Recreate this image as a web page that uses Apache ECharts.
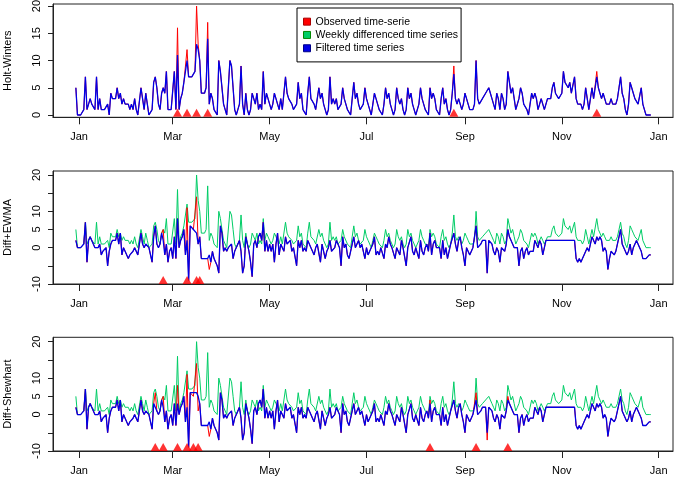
<!DOCTYPE html>
<html>
<head>
<meta charset="utf-8">
<script src="https://cdn.jsdelivr.net/npm/echarts@6/dist/echarts.min.js"></script>
<style>
html, body { margin: 0; padding: 0; background: #fff; }
#chartmain { width: 677px; height: 481px; }
</style>
</head>
<body>
<div id="chartmain"></div>
<script>
// one value per day, first value is day -2 (30 Dec of previous year)
var startDay = -2;

var observed = [
    5,0,0,0,0,1,
    7,1,2,3,2,2,1, 7,1,3,1,1,1,1, 2,0,4,3,3,3,5, 3,4,2,3,2,2,2,
    1,2,1,3,1,0,0, 5,3,1,4,2,0,0, 1,6,7,5,2,1,4, 5,4,8,1,1,1,1,
    8,1,16,1,3,4,6, 6,12,7,7,7,7,8, 20,13,10,4,4,4,5, 17,2,4,3,1,1,0,
    10,8,8,2,1,0,0, 10,9,5,1,0,1,2, 9,2,0,4,1,0,1, 4,3,2,4,1,2,1,
    8,2,4,3,2,1,2, 4,3,2,1,3,1,1, 7,4,3,3,2,1,1, 2,6,3,4,1,1,0,
    4,7,3,3,2,1,1, 5,3,4,2,1,0,1, 7,2,3,2,3,1,1, 2,5,3,3,1,1,0,
    3,6,3,4,2,1,1, 2,5,3,2,1,0,2, 4,3,2,1,1,0,2, 5,3,4,2,1,0,1,
    5,3,2,3,1,0,1, 5,3,4,2,1,0,1, 2,5,3,2,1,1,0, 5,3,4,3,1,1,0,
    3,5,2,3,1,0,1, 4,9,3,2,3,3,1, 2,4,3,2,1,1,1, 2,10,3,2,2,3,3,
    4,4,5,4,3,2,1, 4,3,1,4,3,1,2, 8,6,4,5,3,1,2, 3,5,4,2,2,1,0,
    2,4,3,4,3,1,2, 3,2,1,2,3,3,3, 5,6,4,4,3,3,4, 8,6,6,5,6,4,4,
    7,3,2,2,2,1,2, 5,3,1,1,5,3,3, 8,5,4,3,4,3,2, 2,2,3,2,2,2,3,
    5,7,4,3,1,0,2, 6,5,4,3,3,2,2, 5,2,1,0,0,0,0
];

var hwFiltered = [
    5,0,0,0,0,1,
    7,1,2,3,2,2,1, 7,1,3,1,1,1,1, 2,0,4,3,3,3,5, 3,4,2,3,2,2,2,
    1,2,1,3,1,0,0, 5,3,1,4,2,0,0, 1,6,7,5,2,1,4, 5,4,8,1,1,1,1,
    8,1,11,1,3,4,6, 6,10,7,7,7,7,8, 13,12,10,4,4,4,5, 14,2,4,3,1,1,0,
    10,8,8,2,1,0,0, 10,9,5,1,0,1,2, 9,2,0,4,1,0,1, 4,3,2,4,1,2,1,
    8,2,4,3,2,1,2, 4,3,2,1,3,1,1, 7,4,3,3,2,1,1, 2,6,3,4,1,1,0,
    4,7,3,3,2,1,1, 5,3,4,2,1,0,1, 7,2,3,2,3,1,1, 2,5,3,3,1,1,0,
    3,6,3,4,2,1,1, 2,5,3,2,1,0,2, 4,3,2,1,1,0,2, 5,3,4,2,1,0,1,
    5,3,2,3,1,0,1, 5,3,4,2,1,0,1, 2,5,3,2,1,1,0, 5,3,4,3,1,1,0,
    3,5,2,3,1,0,1, 4,7.5,3,2,3,3,1, 2,4,3,2,1,1,1, 2,10,3,2,2,3,3,
    4,4,5,4,3,2,1, 4,3,1,4,3,1,2, 8,6,4,5,3,1,2, 3,5,4,2,2,1,0,
    2,4,3,4,3,1,2, 3,2,1,2,3,3,3, 5,6,4,4,3,3,4, 8,6,6,5,6,4,4,
    7,3,2,2,2,1,2, 5,3,1,1,5,3,3, 7,5,4,3,4,3,2, 2,2,3,2,2,2,3,
    5,7,4,3,1,0,2, 6,5,4,3,3,2,2, 5,2,1,0,0,0,0
];

var weeklyDiff = [
    2,0,0,0,0,1,
    7,-4,2,3,2,2,0, 0,0,1,-2,-1,-1,0, -5,-1,1,2,2,2,4, 1,4,-2,0,-1,-1,-3,
    -2,-2,-1,0,-1,-2,-2, 4,1,0,1,1,0,0, -4,3,6,1,0,1,4, 5,-2,1,-4,-1,0,-3,
    3,-3,8,0,2,3,5, -2,11,-9,6,6,5,5, 14,1,3,-3,-3,-3,-3, -3,-6,-4,-1,-3,-3,-5,
    -7,6,4,-1,0,-1,0, 0,1,-3,-1,-1,1,2, -1,-7,-5,3,1,-1,-4, -8,1,2,0,3,4,2,
    7,-1,2,-1,1,-1,1, -4,1,4,-2,1,0,-1, 3,1,1,2,-1,0,0, -5,2,0,2,-1,0,-1,
    2,1,0,-1,-2,0,1, 1,-4,1,-1,-3,-1,0, 2,-1,-1,0,2,1,0, -5,3,0,1,-2,-3,-1,
    1,3,0,1,2,0,1, -1,-3,0,-2,-1,-1,1, 3,-2,-1,-2,0,0,-3, 1,0,3,1,0,0,-3,
    0,0,-2,2,0,0,-5, 0,0,3,-1,-2,0,0, -3,2,-1,-2,0,1,-1, 4,-2,1,2,0,0,0,
    -3,2,-2,0,-3,-1,1, 1,4,1,-1,2,3,0, -2,-5,0,0,-2,-2,0, 0,6,0,0,1,2,2,
    2,-7,2,2,1,-1,-2, 0,-1,-4,0,0,-1,1, 5,3,3,1,0,0,0, -5,-1,0,-3,-1,0,-2,
    -1,-1,-1,2,1,0,2, 1,-2,-2,2,2,2,2, 2,2,2,2,2,2,2, 2,2,2,2,2,2,2,
    2,-3,-4,-3,-4,-3,-2, -2,0,-1,-1,3,2,1, 3,2,3,2,-1,0,-1, -6,-3,-1,-1,-2,-1,1,
    3,5,1,1,-1,-2,-1, 1,-2,0,0,2,2,0, -1,-3,-3,-3,-3,-2,-2
];

var ewmaFiltered = [
    2,0,0,0,0,1,
    7,-4,2,3,2,2,0, 0,0,1,-2,-1,-1,0, -5,-1,1,2,2,2,4, 1,4,-2,0,-1,-1,-3,
    -2,-2,-1,0,-1,-2,-2, 4,1,0,1,1,0,0, -4,3,6,1,0,1,4, 2,-2,1,-4,-1,0,-3,
    3,-3,8,0,2,3,5, -2,2,-9,6,6,5,5, 4,1,3,-3,-3,-3,-3, -3,-2,-4,-1,-3,-3,-5,
    -7,6,4,-1,0,-1,0, 0,1,-3,-1,-1,1,2, -1,-7,-5,3,1,-1,-4, -8,1,2,0,3,4,2,
    7,-1,2,-1,1,-1,1, -4,1,4,-2,1,0,-1, 3,1,1,2,-1,0,0, -5,2,0,2,-1,0,-1,
    2,1,0,-1,-2,0,1, 1,-4,1,-1,-3,-1,0, 2,-1,-1,0,2,1,0, -5,3,0,1,-2,-3,-1,
    1,3,0,1,2,0,1, -1,-3,0,-2,-1,-1,1, 3,-2,-1,-2,0,0,-3, 1,0,3,1,0,0,-3,
    0,0,-2,2,0,0,-5, 0,0,3,-1,-2,0,0, -3,2,-1,-2,0,1,-1, 4,-2,1,2,0,0,0,
    -3,2,-2,0,-3,-1,1, 1,4,1,-1,2,3,0, -2,-5,0,0,-2,-2,0, 0,6,0,0,1,2,2,
    2,-7,2,2,1,-1,-2, 0,-1,-4,0,0,-1,1, 5,3,3,1,0,0,0, -5,-1,0,-3,-1,0,-2,
    -1,-1,-1,2,1,0,2, 1,-2,-2,2,2,2,2, 2,2,2,2,2,2,2, 2,2,2,2,2,2,2,
    2,-3,-4,-3,-4,-3,-2, -2,0,-1,-1,3,2,1, 3,2,3,2,-1,0,-1, -6,-3,-1,-1,-2,-1,1,
    3,5,1,1,-1,-2,-1, 1,-2,0,0,2,2,0, -1,-3,-3,-3,-3,-2,-2
];

var shewhartFiltered = [
    2,0,0,0,0,1,
    7,-4,2,3,2,2,0, 0,0,1,-2,-1,-1,0, -5,-1,1,2,2,2,4, 1,4,-2,0,-1,-1,-3,
    -2,-2,-1,0,-1,-2,-2, 4,1,0,1,1,0,0, -4,3,2,1,0,1,4, 2,-2,1,-4,-1,0,-3,
    3,-3,3,0,2,3,5, -2,2,-9,6,6,6,6, 6,5,3,-3,-3,-3,-3, -3,-2,-4,-1,-3,-3,-5,
    -7,6,4,-1,0,-1,0, 0,1,-3,-1,-1,1,2, -1,-7,-5,3,1,-1,-4, -8,1,2,0,3,4,2,
    7,-1,2,-1,1,-1,1, -4,1,4,-2,1,0,-1, 3,1,1,2,-1,0,0, -5,2,0,2,-1,0,-1,
    2,1,0,-1,-2,0,1, 1,-4,1,-1,-3,-1,0, 2,-1,-1,0,2,1,0, -5,3,0,1,-2,-3,-1,
    1,3,0,1,2,0,1, -1,-3,0,-2,-1,-1,1, 3,-2,-1,-2,0,0,-3, 1,0,3,1,0,0,-3,
    0,0,-2,2,0,0,-5, 0,0,3,-1,-2,0,0, -3,2,-1,-2,0,1,-1, 3,-2,1,2,0,0,0,
    -3,2,-2,0,-3,-1,1, 1,4,1,-1,2,3,0, -2,-5,0,0,-2,-2,0, 0,4,0,0,1,2,2,
    2,-5,2,2,1,-1,-2, 0,-1,-4,0,0,-1,1, 4,3,3,1,0,0,0, -5,-1,0,-3,-1,0,-2,
    -1,-1,-1,2,1,0,2, 1,-2,-2,2,2,2,2, 2,2,2,2,2,2,2, 2,2,2,2,2,2,2,
    2,-3,-4,-3,-4,-3,-2, -2,0,-1,-1,3,2,1, 3,2,3,2,-1,0,-1, -6,-3,-1,-1,-2,-1,1,
    3,5,1,1,-1,-2,-1, 1,-2,0,0,2,2,0, -1,-3,-3,-3,-3,-2,-2
];

// alarm days (red triangles)
var hwAlarms = [62, 68, 74, 81, 236, 326];
var ewmaAlarms = [53, 68, 74, 76];
var shewhartAlarms = [48, 53, 62, 68, 72, 75, 221, 250, 270];

// axis ticks
var monthDays = [0, 59, 120, 181, 243, 304, 365];
var monthLabels = ['Jan', 'Mar', 'May', 'Jul', 'Sep', 'Nov', 'Jan'];
var hwTicks = [0, 5, 10, 15, 20];
var diffTicks = [-10, -5, 0, 5, 10, 15, 20];
var diffLabels = [-10, 0, 5, 10, 20];

var FONT = '"Liberation Sans", Arial, sans-serif';
var RED = '#ff0000', GREEN = '#00cd66', BLUE = '#0000e6';

function toPairs(arr) {
    var out = [];
    for (var i = 0; i < arr.length; i++) {
        out.push([startDay + i, arr[i]]);
    }
    return out;
}
function alarmPairs(days, y) {
    var out = [];
    for (var i = 0; i < days.length; i++) {
        out.push([days[i], y]);
    }
    return out;
}

function monthAxis(g) {
    return {
        type: 'value', gridIndex: g, min: -16.4, max: 374,
        axisLine: {show: true, onZero: false, lineStyle: {color: '#222', width: 1}},
        splitLine: {show: false},
        axisTick: {show: true, inside: false, length: 7, customValues: monthDays, lineStyle: {color: '#222'}},
        axisLabel: {
            customValues: monthDays, margin: 14, fontSize: 11, color: '#000', fontFamily: FONT,
            formatter: function (v) { return monthLabels[monthDays.indexOf(v)]; }
        }
    };
}
function valueAxis(g, min, max, ticks, labels, name) {
    return {
        type: 'value', gridIndex: g, min: min, max: max,
        name: name, nameLocation: 'middle', nameGap: 40, nameRotate: 90,
        nameTextStyle: {fontSize: 11, color: '#000', fontFamily: FONT},
        axisLine: {show: true, onZero: false, lineStyle: {color: '#222', width: 1}},
        splitLine: {show: false},
        axisTick: {show: true, inside: false, length: 5, customValues: ticks, lineStyle: {color: '#222'}},
        axisLabel: {customValues: labels, rotate: 90, margin: 11, fontSize: 11, color: '#000', fontFamily: FONT}
    };
}
function lineSeries(name, data, color, g, w) {
    return {
        name: name, type: 'line', xAxisIndex: g, yAxisIndex: g,
        data: toPairs(data), showSymbol: false, color: color,
        lineStyle: {width: w, color: color}, animation: false
    };
}
function alarmSeries(days, y, g, off) {
    return {
        type: 'scatter', xAxisIndex: g, yAxisIndex: g,
        data: alarmPairs(days, y), symbol: 'triangle', symbolSize: [9, 8],
        symbolOffset: [0, off], itemStyle: {color: RED}, clip: false, animation: false, z: 5
    };
}

var gridBox = {
    show: true, borderColor: '#222', borderWidth: 1, left: 53, width: 620,
    containLabel: false, outerBoundsMode: 'none'
};

option = {
    backgroundColor: '#fff',
    textStyle: {fontFamily: FONT},
    grid: [
        Object.assign({top: 4, height: 113.3}, gridBox),
        Object.assign({top: 171, height: 113}, gridBox),
        Object.assign({top: 337.3, height: 113.7}, gridBox)
    ],
    xAxis: [monthAxis(0), monthAxis(1), monthAxis(2)],
    yAxis: [
        valueAxis(0, -0.42, 20.37, hwTicks, hwTicks, 'Holt-Winters'),
        valueAxis(1, -10, 21.1, diffTicks, diffLabels, 'Diff+EWMA'),
        valueAxis(2, -10, 21.2, diffTicks, diffLabels, 'Diff+Shewhart')
    ],
    legend: {
        left: 297, top: 8, orient: 'vertical',
        icon: 'rect', itemWidth: 7, itemHeight: 7, itemGap: 0,
        borderColor: '#000', borderWidth: 1, padding: [7, 3, 7, 6],
        textStyle: {fontSize: 10.5, lineHeight: 13.3, color: '#000', fontFamily: FONT},
        data: [
            {name: 'Observed time-serie', itemStyle: {color: RED, borderColor: '#a00', borderWidth: 1}},
            {name: 'Weekly differenced time series', itemStyle: {color: GREEN, borderColor: '#080', borderWidth: 1}},
            {name: 'Filtered time series', itemStyle: {color: BLUE, borderColor: '#008', borderWidth: 1}}
        ]
    },
    series: [
        lineSeries('Observed time-serie', observed, RED, 0, 1),
        lineSeries('Filtered time series', hwFiltered, BLUE, 0, 1.3),
        alarmSeries(hwAlarms, 0, 0, -2.2),

        lineSeries('Weekly differenced time series', observed, GREEN, 1, 1),
        lineSeries('Observed time-serie', weeklyDiff, RED, 1, 1),
        lineSeries('Filtered time series', ewmaFiltered, BLUE, 1, 1.3),
        alarmSeries(ewmaAlarms, -10, 1, -4),

        lineSeries('Weekly differenced time series', observed, GREEN, 2, 1),
        lineSeries('Observed time-serie', weeklyDiff, RED, 2, 1),
        lineSeries('Filtered time series', shewhartFiltered, BLUE, 2, 1.3),
        alarmSeries(shewhartAlarms, -10, 2, -4)
    ]
};

var myChart = echarts.init(document.getElementById('chartmain'));
myChart.setOption(option);
</script>
</body>
</html>
